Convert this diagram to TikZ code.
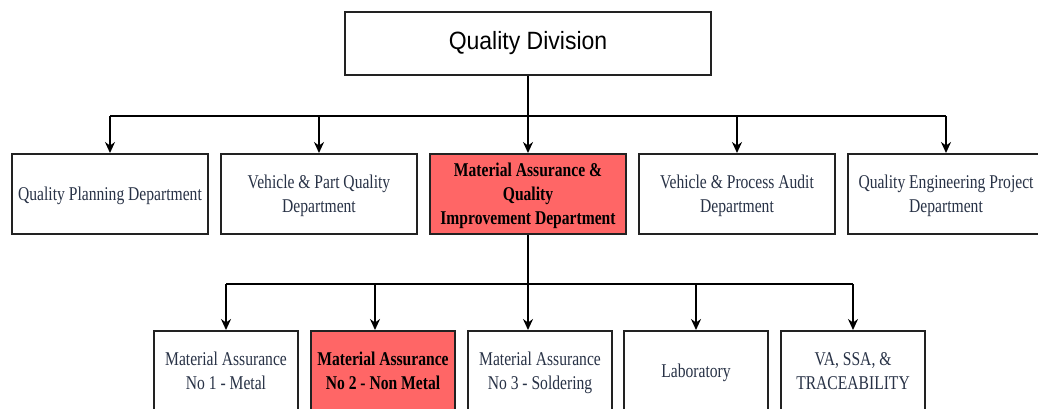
\documentclass[tikz,border=0pt]{standalone}
\usepackage{fontspec}
\setmainfont{Liberation Serif}
\newfontfamily\deptfont[FakeStretch=0.8]{Liberation Serif}
\newfontfamily\headfont[FakeStretch=0.92]{Liberation Sans}
\usetikzlibrary{positioning, calc, arrows.meta}

\definecolor{redFill}{RGB}{255,102,102}
\definecolor{lineGray}{RGB}{34,34,34}
\definecolor{textSlate}{RGB}{40,50,70}

\begin{document}
\begin{tikzpicture}[
	x=1pt, y=-1pt,
	box/.style={draw=lineGray, line width=2pt, fill=white, align=center, inner sep=2pt,
		text depth=-1pt, text=textSlate, font=\deptfont\fontsize{19.5}{24}\selectfont},
	dept/.style={box, minimum width=196, minimum height=80},
	unit/.style={box, minimum width=144, minimum height=80},
	redBox/.style={fill=redFill, text=black, font=\deptfont\fontsize{19.5}{24}\selectfont\bfseries},
	arrow/.style={-{Stealth[length=11pt,width=10pt]}, line width=1.8pt, draw=black}
	]
	
	\useasboundingbox (0,0) rectangle (1038,408);
	\clip (0,0) rectangle (1038,408);
	
	% Division
	\node [draw=lineGray, line width=2pt, minimum width=366, minimum height=63, font=\headfont\fontsize{25}{28}\selectfont] (div) at (528,43.5) {Quality Division};
	
	% Departments
	\node [dept] (qpd) at (110,194) {Quality Planning Department};
	\node [dept] (vpq) at (319,194) {Vehicle \& Part Quality\\Department};
	\node [dept, redBox] (maq) at (528,194) {Material Assurance \&\\Quality\\Improvement Department};
	\node [dept] (vpa) at (737,194) {Vehicle \& Process Audit\\Department};
	\node [dept] (qep) at (946,194) {Quality Engineering Project\\Department};
	
	% Sections
	\node [unit] (ma1) at (226,371) {Material Assurance\\No 1 - Metal};
	\node [unit, redBox] (ma2) at (383,371) {Material Assurance\\No 2 - Non Metal};
	\node [unit] (ma3) at (540,371) {Material Assurance\\No 3 - Soldering};
	\node [unit] (lab) at (696,371) {Laboratory};
	\node [unit] (vas) at (853,371) {VA, SSA, \&\\TRACEABILITY};
	
	\coordinate (bus1) at ($(div.south) + (0,40)$);
	\coordinate (bus2) at ($(maq.south) + (0,49)$);
	
	% Division to departments
	\draw [line width=1.8pt] (qpd.north |- bus1) -- (qep.north |- bus1);
	\draw [arrow] (div.south) -- (maq.north);
	\foreach \d in {qpd, vpq, vpa, qep}
		\draw [arrow] (\d.north |- bus1) -- (\d.north);
	
	% Department to sections
	\draw [line width=1.8pt] (ma1.north |- bus2) -- (vas.north |- bus2);
	\draw [arrow] (maq.south) -- (maq.south |- ma3.north);
	\draw [arrow] (ma1.north |- bus2) -- (ma1.north);
	\draw [arrow] ($(ma2.north |- bus2) + (-8,0)$) -- ($(ma2.north) + (-8,0)$);
	\draw [arrow] (lab.north |- bus2) -- (lab.north);
	\draw [arrow] (vas.north |- bus2) -- (vas.north);
\end{tikzpicture}
\end{document}
